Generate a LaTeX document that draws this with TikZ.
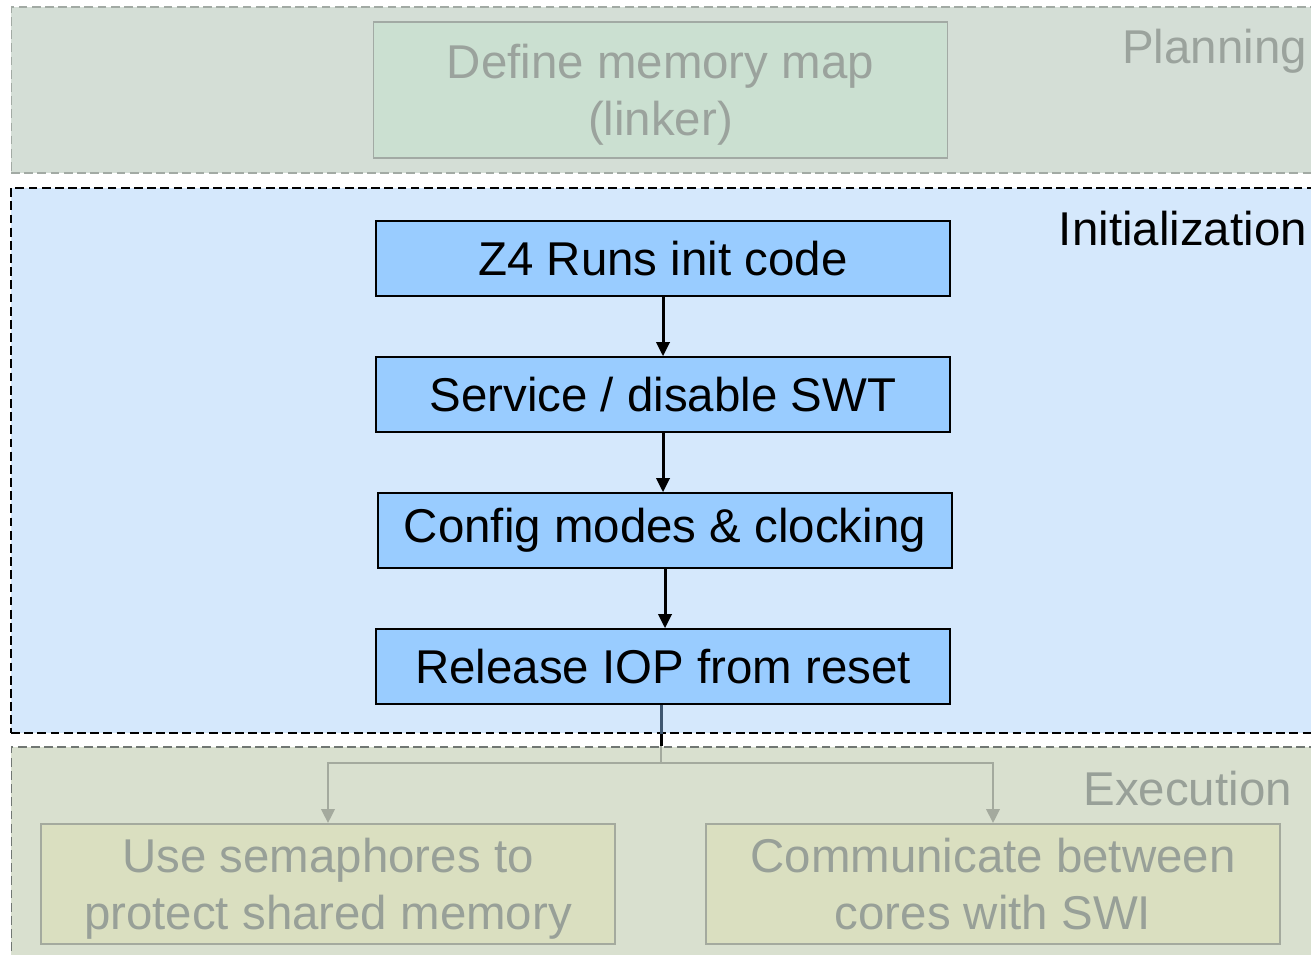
\documentclass[tikz,border=0pt]{standalone}
\usepackage{fontspec}
\setmainfont{Liberation Sans}
\usetikzlibrary{arrows.meta}
\definecolor{planfill}{HTML}{D4DED6}
\definecolor{planbox}{HTML}{CBE0D1}
\definecolor{planedge}{HTML}{A2AAA4}
\definecolor{plantext}{HTML}{9BA39D}
\definecolor{initfill}{HTML}{D5E8FC}
\definecolor{initbox}{HTML}{99CCFF}
\definecolor{initline}{HTML}{3E5670}
\definecolor{execfill}{HTML}{D9E0CF}
\definecolor{execbox}{HTML}{DADFC0}
\definecolor{execedge}{HTML}{A4AA9E}
\definecolor{exectext}{HTML}{98A098}
\tikzset{
	band/.style={dash pattern=on 5pt off 2.5pt, minimum width=26.18cm, inner sep=0pt},
	bigtext/.style={font=\fontsize{27}{32.3}\selectfont},
	stepbox/.style={draw, bigtext, align=center, minimum width=11.48cm, inner sep=0pt},
	initstep/.style={stepbox, fill=initbox, line width=0.9pt, minimum height=1.5cm},
	flow/.style={line width=1.7pt, -{Triangle[length=8pt,width=7.5pt]}},
	greyflow/.style={line width=1.6pt, execedge, -{Triangle[length=8pt,width=7.5pt]}}
}
\begin{document}
\begin{tikzpicture}[x=0.02cm,y=-0.02cm]
		\useasboundingbox[fill=white] (0,0) rectangle (1311,955);
		\node[band, draw=planedge, line width=0.7pt, fill=planfill, minimum height=3.32cm] (plan) at (665.5,90) {};
		\node[band, draw=black, line width=1.1pt, fill=initfill, minimum height=10.9cm] (init) at (665.5,460.5) {};
		\node[band, draw=planedge!70!black, line width=0.7pt, fill=execfill, minimum height=4.36cm] (exec) at (665.5,856) {};
		\node[bigtext, plantext, anchor=base east] (planlbl) at (1313,64) {Planning};
		\node[bigtext, anchor=base east] (initlbl) at (1313,246) {Initialization};
		\node[bigtext, exectext, anchor=base east] (execlbl) at (1298,805) {Execution};
		\node[stepbox, draw=planedge, line width=1pt, fill=planbox, text=plantext, text depth=0pt, minimum height=2.72cm] (memmap) at (660.5,90) {Define memory map\\(linker)};
		\node[initstep] (z4) at (663,258.5) {Z4 Runs init code};
		\node[initstep] (swt) at (663,394.5) {Service / disable SWT};
		\node[initstep] (clk) at (665,530.5) {Config modes \& clocking};
		\node[initstep] (iop) at (663,666.5) {Release IOP from reset};
		\node[stepbox, draw=execedge, line width=1pt, fill=execbox, text=exectext, text depth=0pt, minimum height=2.4cm] (sem) at (328,884) {Use semaphores to\\protect shared memory};
		\node[stepbox, draw=execedge, line width=1pt, fill=execbox, text=exectext, text depth=0pt, minimum height=2.4cm] (swi) at (993,884) {Communicate between\\cores with SWI};
		\draw[flow] (z4.south) -- (swt.north);
		\draw[flow] (swt.south) -- (swt.south |- clk.north);
		\draw[flow] (clk.south) -- (clk.south |- iop.north);
		\coordinate (split) at (661,763);
		\draw[initline, line width=1.7pt] (split |- iop.south) -- (split |- init.south);
		\draw[black, line width=1.7pt] (split |- init.south) -- (split |- exec.north);
		\draw[execedge, line width=1.6pt] (split |- exec.north) -- (split);
		\draw[greyflow] (split) -| (sem.north);
		\draw[greyflow] (split) -| (swi.north);
\end{tikzpicture}
\end{document}
